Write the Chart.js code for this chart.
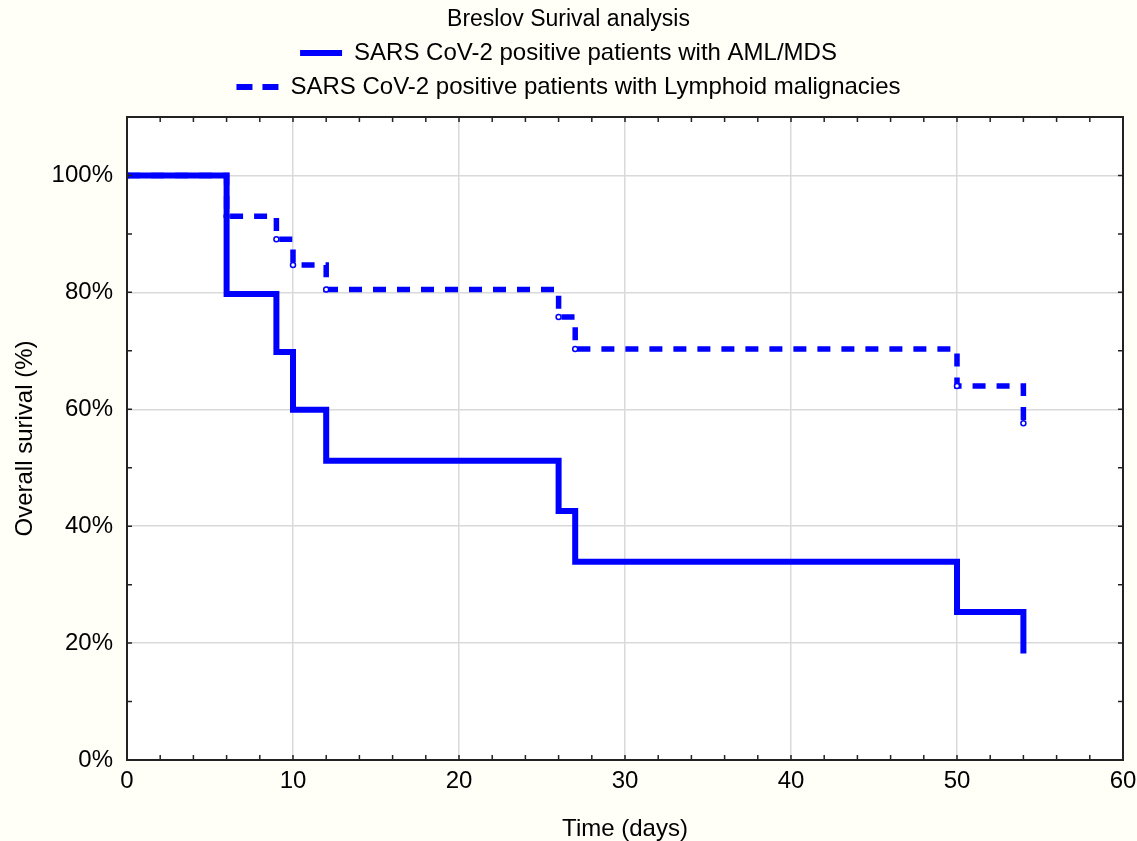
<!DOCTYPE html>
<html>
<head>
<meta charset="utf-8">
<script src="https://cdn.jsdelivr.net/npm/chart.js@4"></script>
<style>
  html, body { margin: 0; background: #fffff8; }
  canvas { display: block; }
</style>
</head>
<body>
<canvas id="km" width="1137" height="841"></canvas>
<script>
// Kaplan-Meier step points (days, survival %)
const days = [0, 6, 9, 10, 12, 26, 27, 50, 54];
const amlSurvival = [100, 79.7, 69.8, 59.9, 51.2, 42.6, 33.9, 25.3, 18.2];
const lymphoidSurvival = [100, 93.0, 89.1, 84.7, 80.5, 75.8, 70.3, 64.0, 57.6];
const seriesNames = [
    'SARS CoV-2 positive patients with AML/MDS',
    'SARS CoV-2 positive patients with Lymphoid malignacies'
];
const xTicks = [0, 10, 20, 30, 40, 50, 60];
const yTicks = [0, 20, 40, 60, 80, 100];

const blue = '#0000ff';
const font = 'Liberation Sans';

// white plot box, black frame and small inward ticks
const frame = {
    id: 'frame',
    beforeDraw(chart) {
        const { ctx, chartArea: a } = chart;
        ctx.save();
        ctx.fillStyle = '#ffffff';
        ctx.fillRect(a.left, a.top, a.right - a.left, a.bottom - a.top);
        ctx.restore();
    },
    afterDraw(chart) {
        const { ctx, chartArea: a, scales } = chart;
        ctx.save();
        ctx.strokeStyle = '#222';
        ctx.lineWidth = 1.5;
        ctx.beginPath();
        for (let v = 2; v < 60; v += 2) {
            const x = scales.x.getPixelForValue(v);
            ctx.moveTo(x, a.bottom); ctx.lineTo(x, a.bottom - 5);
            ctx.moveTo(x, a.top); ctx.lineTo(x, a.top + 5);
        }
        for (let v = 10; v <= 100; v += 10) {
            const y = scales.y.getPixelForValue(v);
            ctx.moveTo(a.left, y); ctx.lineTo(a.left + 5, y);
            ctx.moveTo(a.right, y); ctx.lineTo(a.right - 5, y);
        }
        ctx.stroke();
        ctx.lineWidth = 2;
        ctx.strokeRect(a.left, a.top, a.right - a.left, a.bottom - a.top);
        ctx.restore();
    }
};

new Chart(document.getElementById('km'), {
    type: 'line',
    data: {
        datasets: [{
            label: seriesNames[0],
            data: days.map((d, i) => ({ x: d, y: amlSurvival[i] })),
            borderColor: blue,
            backgroundColor: blue,
            borderWidth: 6,
            stepped: true,
            pointRadius: 0,
            fill: false
        }, {
            label: seriesNames[1],
            data: days.map((d, i) => ({ x: d, y: lymphoidSurvival[i] })),
            borderColor: blue,
            backgroundColor: blue,
            borderWidth: 5.5,
            borderDash: [13, 11],
            stepped: true,
            pointRadius: 2.5,
            pointBorderWidth: 1.5,
            pointBackgroundColor: '#ffffff',
            pointBorderColor: blue,
            fill: false
        }]
    },
    options: {
        responsive: false,
        animation: false,
        layout: { padding: 0 },
        plugins: {
            title: {
                display: true,
                text: 'Breslov Surival analysis',
                color: '#000',
                font: { family: font, size: 23, weight: 'normal', lineHeight: 1 },
                padding: { top: 8, bottom: 0 }
            },
            legend: {
                labels: {
                    color: '#000',
                    font: { family: font, size: 24 },
                    usePointStyle: true,
                    pointStyleWidth: 42,
                    padding: 10,
                    generateLabels: chart => Chart.defaults.plugins.legend.labels.generateLabels(chart).map((it, i) => ({
                        ...it,
                        pointStyle: 'line',
                        lineWidth: 6,
                        lineDash: i ? [16, 10] : [],
                        strokeStyle: blue,
                        fillStyle: blue
                    }))
                }
            },
            tooltip: { enabled: false }
        },
        scales: {
            x: {
                type: 'linear',
                min: 0,
                max: 60,
                afterBuildTicks: s => { s.ticks = xTicks.map(v => ({ value: v })); },
                afterFit: s => { s.height = 81; s.paddingRight = 14; s.paddingLeft = 0; },
                grid: { color: '#d9d9d9', lineWidth: 1.5, drawTicks: false },
                border: { display: false },
                ticks: { color: '#000', font: { family: font, size: 24 }, padding: 7, maxRotation: 0 },
                title: {
                    display: true,
                    text: 'Time (days)',
                    color: '#000',
                    font: { family: font, size: 24, lineHeight: 1 },
                    padding: { top: 0, bottom: 0 }
                }
            },
            // empty spacer above the plot box
            xTop: {
                type: 'linear',
                position: 'top',
                min: 0,
                max: 60,
                afterFit: s => { s.height = 8; s.paddingRight = 0; s.paddingLeft = 0; },
                grid: { display: false, drawTicks: false },
                border: { display: false },
                ticks: { display: false }
            },
            y: {
                min: 0,
                max: 110,
                afterBuildTicks: s => { s.ticks = yTicks.map(v => ({ value: v })); },
                afterFit: s => { s.width = 127; },
                grid: { color: '#d9d9d9', lineWidth: 1.5, drawTicks: false },
                border: { display: false },
                ticks: { color: '#000', font: { family: font, size: 24 }, padding: 14, callback: v => v + '%' },
                title: {
                    display: true,
                    text: 'Overall surival (%)',
                    color: '#000',
                    font: { family: font, size: 24, lineHeight: 1 },
                    padding: { top: 13, bottom: 0 }
                }
            }
        }
    },
    plugins: [frame]
});
</script>
</body>
</html>
